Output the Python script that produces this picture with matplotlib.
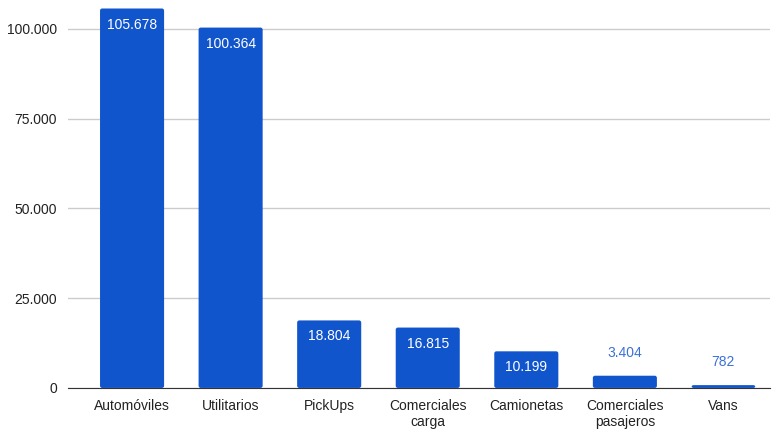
import matplotlib.pyplot as plt
from matplotlib.patches import FancyBboxPatch
from matplotlib.ticker import FuncFormatter

categorias = ["Automóviles", "Utilitarios", "PickUps", "Comerciales\ncarga",
              "Camionetas", "Comerciales\npasajeros", "Vans"]
unidades = [105678, 100364, 18804, 16815, 10199, 3404, 782]
ticks_y = [0, 25000, 50000, 75000, 100000]


def miles(v):
    # separador de miles con punto
    return f"{int(v):,}".replace(",", ".")


plt.rcParams['font.family'] = ['Liberation Sans', 'DejaVu Sans']
azul = "#1155cc"
azul_texto = "#3c70d8"

fig = plt.figure(figsize=(7.78, 4.32), dpi=100)
ax = fig.add_axes([0.0874, 0.102, 0.902, 0.881])

x = range(len(categorias))
barras = ax.bar(x, unidades, width=0.65, color=azul, zorder=3)

# esquinas redondeadas: se reemplaza cada barra por un FancyBboxPatch
for b in barras:
    b.set_visible(False)
    ax.add_patch(FancyBboxPatch((b.get_x(), 0), b.get_width(), b.get_height(),
                                boxstyle="round,pad=0,rounding_size=0.022",
                                mutation_aspect=27000, facecolor=azul,
                                edgecolor="none", zorder=3))

for b, v in zip(barras, unidades):
    cx = b.get_x() + b.get_width() / 2
    if v > 8000:
        ax.annotate(miles(v), (cx, v), xytext=(0, -16), textcoords="offset pixels",
                    ha="center", va="center", color="white", fontsize=10, zorder=4)
    else:
        ax.annotate(miles(v), (cx, v), xytext=(0, 23), textcoords="offset pixels",
                    ha="center", va="center", color=azul_texto, fontsize=10, zorder=4)

ax.set_xlim(-0.65, 6.47)
ax.set_ylim(0, 106000)
ax.set_yticks(ticks_y)
ax.yaxis.set_major_formatter(FuncFormatter(lambda v, p: miles(v)))
ax.set_xticks(list(x))
ax.set_xticklabels(categorias, fontsize=10, color="#222222", linespacing=1.2)
ax.tick_params(axis="y", labelsize=10, labelcolor="#222222", length=0, pad=8)
ax.tick_params(axis="x", length=0, pad=8)

ax.grid(axis="y", color="#cccccc", linewidth=1, zorder=0)
for s in ["top", "right", "left"]:
    ax.spines[s].set_visible(False)
ax.spines["bottom"].set_color("#333333")
ax.spines["bottom"].set_zorder(5)

plt.savefig("out.png")
plt.close()
